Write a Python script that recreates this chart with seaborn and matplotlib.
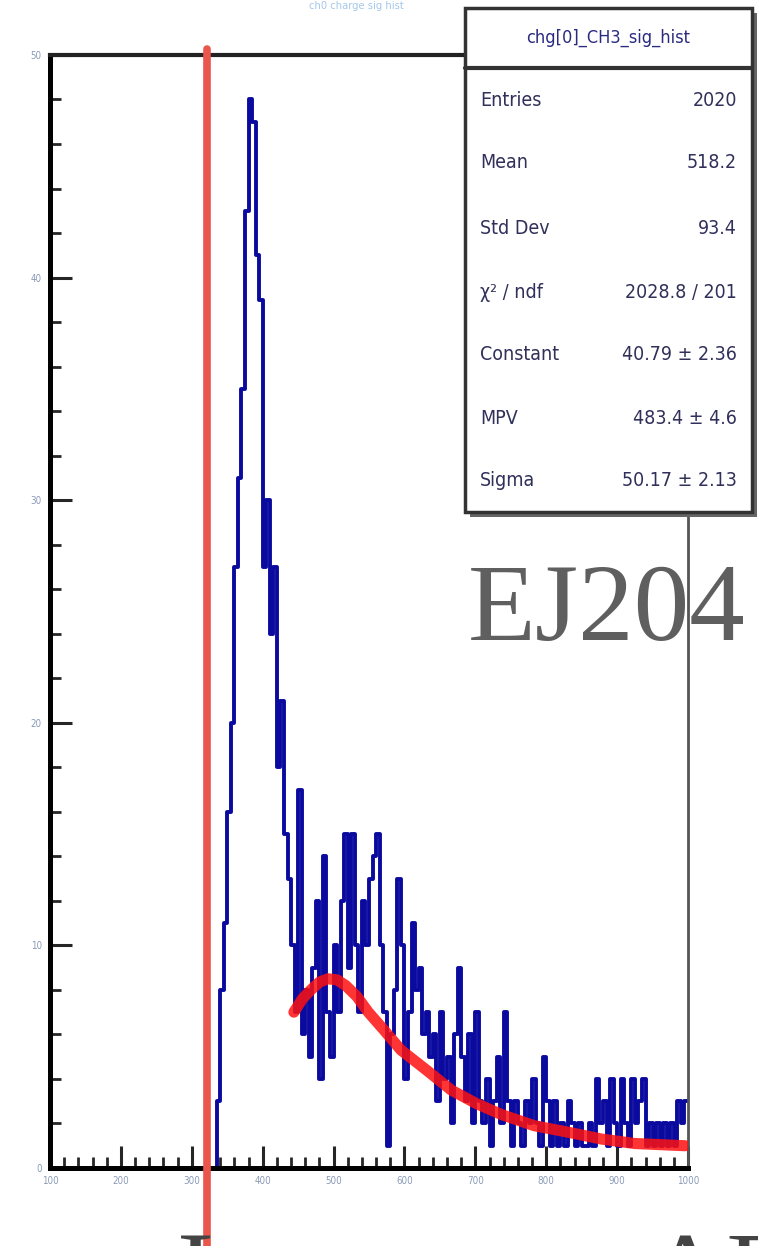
import numpy as np
import pandas as pd
import seaborn as sns
import matplotlib.pyplot as plt
from matplotlib.patches import Rectangle
from matplotlib.lines import Line2D
from matplotlib.ticker import MultipleLocator

# histogram contents (5 unit bins starting at 330)
bin_start = 330
bin_width = 5
counts = [0, 3, 8, 11, 16, 20, 27, 31, 35, 43,
          48, 47, 41, 39, 27, 30, 24, 27, 18, 21,
          15, 13, 10, 7, 17, 6, 8, 5, 9, 12,
          4, 14, 7, 5, 10, 7, 12, 15, 9, 15,
          10, 7, 12, 10, 13, 14, 15, 10, 7, 1,
          6, 8, 13, 10, 4, 7, 11, 8, 9, 6,
          7, 5, 6, 3, 7, 4, 5, 2, 6, 9,
          5, 3, 6, 2, 7, 3, 2, 4, 1, 3,
          5, 2, 7, 3, 1, 3, 2, 1, 3, 2,
          4, 2, 1, 5, 3, 1, 3, 1, 2, 1,
          3, 2, 1, 2, 1, 1, 2, 1, 4, 2,
          3, 1, 4, 2, 1, 4, 2, 1, 4, 2,
          3, 4, 1, 2, 1, 2, 1, 2, 1, 2,
          1, 3, 2, 3]

# landau fit curve
fit_x = [444, 456, 468, 480, 492, 505, 517, 533, 549, 571, 595, 631,
         666, 701, 737, 783, 832, 878, 925, 996]
fit_y = [7.0, 7.6, 8.0, 8.35, 8.5, 8.45, 8.2, 7.7, 7.0, 6.2, 5.3, 4.4,
         3.5, 2.9, 2.4, 1.9, 1.6, 1.3, 1.1, 1.0]

threshold = 322

x_ticks = list(range(100, 1001, 100))
y_ticks = [0, 10, 20, 30, 40, 50]

hist_title = "chg[0]_CH3_sig_hist"
stat_names = ["Entries", "Mean", "Std Dev", "\u03c7\u00b2 / ndf", "Constant", "MPV", "Sigma"]
stat_values = ["2020", "518.2", "93.4", "2028.8 / 201", "40.79 \u00b1 2.36",
               "483.4 \u00b1 4.6", "50.17 \u00b1 2.13"]

sns.set_style("ticks")
narrow = ["Liberation Sans Narrow", "DejaVu Sans"]

fig = plt.figure(figsize=(7.58, 12.46), dpi=100)
ax = fig.add_axes([0.066, 0.0626, 0.8417, 0.8933])

centers = bin_start + bin_width * (np.arange(len(counts)) + 0.5)
df = pd.DataFrame({"adc": centers, "n": counts})
sns.histplot(data=df, x="adc", weights="n", binwidth=bin_width,
             binrange=(bin_start, bin_start + bin_width * len(counts)),
             element="step", fill=False, color="#0a0a9e", linewidth=2.8, ax=ax)

fit = pd.DataFrame({"x": fit_x, "y": fit_y})
sns.lineplot(data=fit, x="x", y="y", color="#ff1010", linewidth=8,
             alpha=0.85, ax=ax, zorder=4)

ax.set_xlim(100, 1000)
ax.set_ylim(0, 50)
ax.set_xticks(x_ticks)
ax.set_yticks(y_ticks)
ax.xaxis.set_minor_locator(MultipleLocator(20))
ax.yaxis.set_minor_locator(MultipleLocator(2))
ax.tick_params(which="major", direction="in", length=16, width=2.2,
               labelsize=7, labelcolor="#8a9ab8", pad=6)
ax.tick_params(which="minor", direction="in", length=8, width=2)
ax.set_xlabel("")
ax.set_ylabel("")
for lab in ax.get_xticklabels() + ax.get_yticklabels():
    lab.set_family(narrow)
    lab.set_stretch("condensed")

for side in ["left", "bottom"]:
    ax.spines[side].set_linewidth(3.6)
    ax.spines[side].set_color("black")
ax.spines["top"].set_linewidth(3.0)
ax.spines["top"].set_color("#222222")
ax.spines["right"].set_linewidth(2.0)
ax.spines["right"].set_color("#555555")

# threshold marker, runs down past the axis
ax.axvline(threshold, ymin=-0.07, ymax=1.005, color="#e8564c",
           linewidth=5.5, clip_on=False, zorder=6)

# faded title at very top
fig.text(0.47, 0.9995, "ch0 charge sig hist", color="#4a90d9", fontsize=8,
         ha="center", va="top", alpha=0.5, family=narrow, stretch="condensed")

# stats box
bx0, bx1 = 465 / 758, 752 / 758
by_top, by_bot = 1 - 8 / 1246, 1 - 512 / 1246
by_head = 1 - 68 / 1246
fig.patches.append(Rectangle((bx0 + 0.006, by_bot - 0.004), bx1 - bx0, by_top - by_bot,
                             transform=fig.transFigure, facecolor="#666666",
                             edgecolor="none", zorder=9))
fig.patches.append(Rectangle((bx0, by_bot), bx1 - bx0, by_top - by_bot,
                             transform=fig.transFigure, facecolor="white",
                             edgecolor="#333333", linewidth=2.5, zorder=10))
fig.lines.append(Line2D([bx0, bx1], [by_head, by_head], transform=fig.transFigure,
                        color="#333333", linewidth=3, zorder=11))
fig.text((bx0 + bx1) / 2, (by_top + by_head) / 2, hist_title, ha="center",
         va="center", fontsize=13, color="#2a2a80", family=narrow,
         stretch="condensed", zorder=12)
row_y = [100, 163, 228, 293, 355, 418, 480]
for name, val, ry in zip(stat_names, stat_values, row_y):
    fig.text(480 / 758, 1 - ry / 1246, name, ha="left", va="center",
             fontsize=14, color="#30305a", family=narrow, stretch="condensed",
             zorder=12)
    fig.text(737 / 758, 1 - ry / 1246, val, ha="right", va="center",
             fontsize=14, color="#30305a", family=narrow, stretch="condensed",
             zorder=12)

# slide text around the plot
serif = ["Liberation Serif", "DejaVu Serif"]
fig.text(468 / 758, 1 - 640 / 1246, "EJ204", fontsize=80, color="#5f5f5f",
         family=serif, ha="left", va="baseline", zorder=2)
fig.text(177 / 758, 1 - 1308 / 1246, "Inner sum ADC", fontsize=80,
         color="#444444", family=serif, ha="left", va="baseline")

fig.savefig("out.png", dpi=100)
